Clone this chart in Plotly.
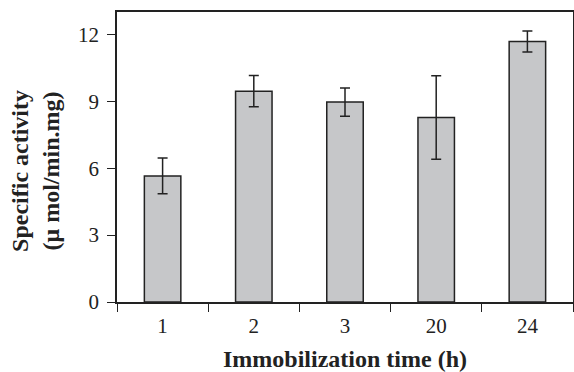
import plotly.graph_objects as go

categories = ["1", "2", "3", "20", "24"]
activity = [5.65, 9.45, 8.96, 8.27, 11.68]
error = [0.80, 0.70, 0.63, 1.87, 0.47]
y_ticks = [0, 3, 6, 9, 12]
x_title = "<b>Immobilization time (h)</b>"
y_title = "<b>Specific activity<br>(μ mol/min.mg)</b>"

FONT = "Liberation Serif"
DARK = "#222222"

fig = go.Figure(
    go.Bar(
        x=categories,
        y=activity,
        width=0.4,
        marker=dict(color="#c6c7c9", line=dict(color=DARK, width=1.5)),
        error_y=dict(type="data", array=error, visible=True, color=DARK, thickness=1.5, width=5),
    )
)

fig.update_layout(
    width=574,
    height=372,
    margin=dict(l=117, r=1, t=12, b=70),
    paper_bgcolor="white",
    plot_bgcolor="white",
    showlegend=False,
    font=dict(family=FONT, color=DARK, size=21),
)

fig.update_xaxes(
    type="category",
    automargin=False,
    tickson="boundaries",
    ticks="outside",
    ticklen=8,
    tickwidth=1.3,
    tickcolor=DARK,
    ticklabelstandoff=4,
    showline=True,
    linecolor=DARK,
    linewidth=1.5,
    mirror=True,
    showgrid=False,
    tickfont=dict(family=FONT, size=21, color=DARK),
)

fig.update_yaxes(
    range=[0, 13],
    automargin=False,
    tickvals=y_ticks,
    ticks="outside",
    ticklen=8,
    tickwidth=1.3,
    tickcolor=DARK,
    ticklabelstandoff=4,
    showline=True,
    linecolor=DARK,
    linewidth=1.5,
    mirror=True,
    showgrid=False,
    zeroline=False,
    tickfont=dict(family=FONT, size=21, color=DARK),
)

fig.add_annotation(
    text=x_title, xref="paper", yref="paper", x=0.5, y=0,
    xanchor="center", yanchor="middle", yshift=-57, showarrow=False,
    font=dict(family=FONT, size=24, color=DARK),
)
fig.add_annotation(
    text=y_title, xref="paper", yref="paper", x=0, y=0.452,
    xanchor="center", yanchor="middle", xshift=-81, textangle=-90, showarrow=False,
    font=dict(family=FONT, size=24, color=DARK),
)

fig.write_html(
    "out.html",
    config={"displayModeBar": False},
    post_script="document.body.style.margin='0';document.body.style.overflow='hidden';",
)
